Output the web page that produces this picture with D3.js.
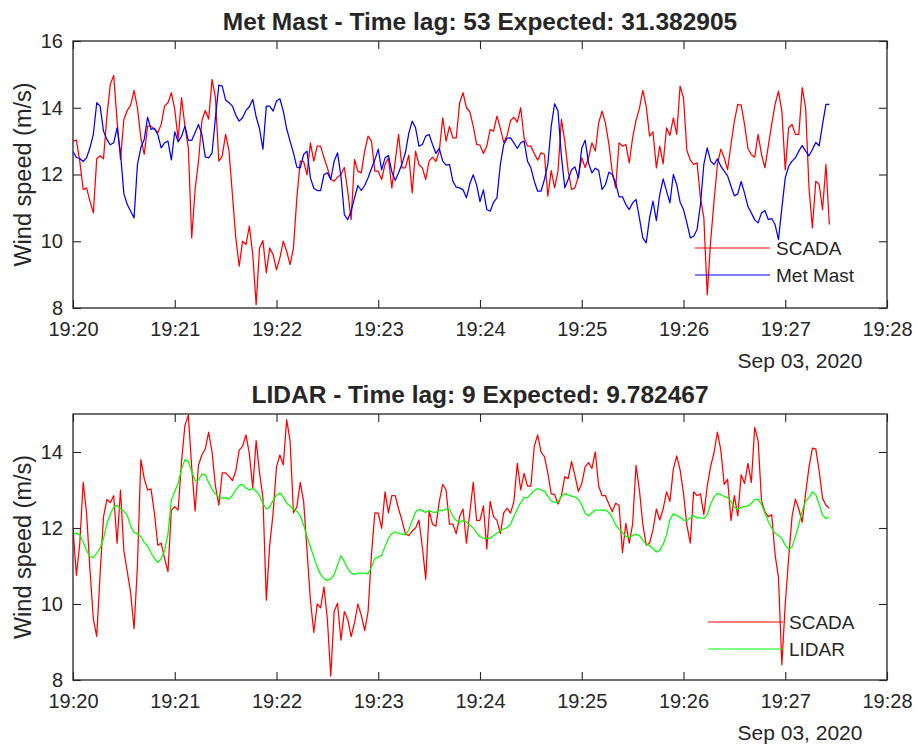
<!DOCTYPE html>
<html>
<head>
<meta charset="utf-8">
<script src="https://cdn.jsdelivr.net/npm/d3@7"></script>
<style>
  body { margin: 0; background: #fff; }
  svg { display: block; }
  text { font-family: "Liberation Sans", Arial, Helvetica, sans-serif; fill: #262626; }
</style>
</head>
<body>
<svg id="chart" width="918" height="749"></svg>
<script>
// ---- data (wind speed, m/s), one sample every 2 s ----

// SCADA record, clock starts 9 s after the reference window start
const scadaSpeed = [
  12.0, 10.75, 11.6, 13.2, 12.4, 10.9, 9.6, 9.15, 10.8, 12.3,
  12.75, 12.67, 12.85, 11.6, 13.0, 11.4, 10.85, 10.3, 9.35, 11.0,
  13.8, 13.3, 13.0, 13.03, 12.4, 11.55, 11.6, 11.2, 10.85, 12.47,
  12.56, 12.47, 13.75, 14.7, 14.97, 13.6, 12.45, 13.65, 13.92, 14.08,
  14.52, 14.0, 13.1, 12.6, 13.45, 13.45, 13.36, 13.25, 13.5, 14.05,
  14.15, 14.45, 13.95, 13.05, 14.3, 13.45, 12.8, 10.1, 11.55, 12.39,
  13.61, 13.92, 13.66, 14.85, 14.3, 12.4, 12.55, 13.2, 12.7, 11.4,
  10.1, 9.25, 10.0, 9.9, 10.45, 9.6, 8.1, 9.8, 10.02, 9.05,
  9.8, 9.6, 9.14, 9.5, 10.0, 9.7, 9.3, 9.8, 11.3, 12.4,
  12.39, 11.99, 12.95, 12.4, 12.85, 12.85, 12.5, 12.2, 11.85, 11.8,
  11.92, 12.0, 12.21, 11.5, 10.65, 12.45, 12.1, 12.05, 12.7, 13.15,
  13.0, 12.1, 12.1, 11.85, 12.3, 12.5, 11.6, 12.4, 13.2, 12.2,
  12.2, 12.58, 11.45, 12.7, 12.3, 12.2, 11.85, 12.4, 12.52, 12.39,
  12.7, 13.7, 13.0, 13.44, 13.1, 13.1, 14.15, 14.45, 14.0, 13.88,
  13.45, 12.9, 12.88, 12.63, 12.85, 13.35, 13.3, 13.75, 13.38, 12.96,
  13.17, 13.61, 13.72, 13.57, 14.0, 13.1, 12.85, 12.85, 12.63, 12.43,
  12.65, 12.6, 11.35, 12.12, 11.6, 12.1, 13.65, 13.0, 12.1, 11.55,
  11.6, 11.95, 12.5, 12.21, 12.5, 12.95, 12.7, 13.55, 13.9, 13.53,
  12.91, 12.07, 11.6, 12.95, 12.85, 12.9, 12.35, 13.1, 13.62, 13.98,
  14.52, 14.05, 13.15, 13.28, 12.2, 12.85, 12.32, 13.4, 13.17, 13.7,
  13.2, 14.65, 14.3, 12.72, 12.43, 12.3, 12.35, 11.3, 10.7, 8.4,
  10.0, 11.2, 12.3, 12.76, 12.5, 12.15, 12.9, 13.6, 14.1, 14.08,
  13.5, 12.78, 12.6, 12.52, 13.2, 12.6, 12.2, 12.85, 13.5, 14.1,
  14.5, 13.9, 12.14, 13.4, 13.5, 13.2, 13.2, 14.6, 14.0, 11.6,
  10.4, 11.8, 11.7, 10.95, 12.3, 10.5
];

// Met mast anemometer, from the reference window start
const metMastSpeed = [
  12.69, 12.51, 12.48, 12.39, 12.5, 12.8, 13.2, 14.15, 14.05, 13.3,
  13.05, 12.89, 12.95, 13.4, 12.65, 11.42, 11.1, 10.9, 10.7, 12.3,
  12.8, 13.05, 13.72, 13.35, 13.38, 13.2, 12.8, 12.95, 13.0, 12.44,
  13.28, 12.98, 13.14, 13.45, 13.02, 13.02, 13.26, 13.5, 13.2, 12.53,
  12.5, 12.65, 13.7, 14.68, 14.65, 14.23, 14.15, 14.05, 13.78, 13.6,
  13.7, 13.92, 14.03, 14.25, 13.73, 13.37, 12.76, 14.05, 14.05, 13.9,
  14.2, 14.27, 13.9, 13.37, 13.0, 12.65, 12.22, 12.2, 12.6, 12.7,
  11.9, 11.59, 11.52, 11.52, 12.0, 12.05, 11.85, 12.4, 12.65, 11.95,
  10.8, 10.65, 10.9, 11.3, 11.67, 11.52, 11.67, 11.9, 12.18, 12.44,
  12.76, 12.14, 12.5, 12.57, 12.08, 11.82, 12.05, 12.32, 12.65, 13.23,
  13.6, 13.4, 12.85, 12.9, 13.15, 13.2, 12.9, 12.63, 12.78, 12.4,
  12.28, 12.3, 11.8, 11.62, 11.6, 11.54, 11.3, 11.72, 11.99, 11.69,
  11.19, 11.54, 10.95, 10.9, 11.17, 11.3, 12.3, 12.9, 13.09, 13.1,
  12.95, 12.78, 12.95, 13.0, 12.4, 12.2, 11.8, 11.5, 11.5, 11.85,
  12.3, 13.45, 14.12, 13.9, 12.55, 11.6, 11.85, 12.14, 12.23, 11.89,
  12.79, 13.03, 12.34, 12.05, 12.19, 12.12, 11.55, 11.7, 12.07, 12.0,
  11.75, 11.33, 11.33, 11.1, 10.95, 11.15, 11.25, 10.7, 10.1, 9.95,
  10.7, 11.2, 10.62, 11.4, 11.87, 11.5, 11.15, 12.0, 11.7, 11.17,
  10.95, 10.55, 10.1, 10.15, 10.35, 11.1, 12.3, 12.8, 12.4, 12.3,
  12.47, 12.25, 12.1, 11.96, 11.65, 11.36, 11.42, 11.79, 11.44, 11.04,
  10.85, 10.64, 10.55, 10.85, 10.92, 10.65, 10.68, 10.5, 10.05, 11.0,
  11.9, 12.24, 12.4, 12.5, 12.7, 12.87, 12.7, 12.56, 12.75, 12.96,
  12.86, 13.5, 14.1, 14.1
];

// LIDAR, from the reference window start
const lidarSpeed = [
  11.86, 11.86, 11.82, 11.63, 11.41, 11.25, 11.22, 11.34, 11.47, 11.72,
  12.12, 12.37, 12.55, 12.6, 12.5, 12.44, 12.33, 12.05, 11.88, 11.85,
  11.77, 11.62, 11.52, 11.35, 11.2, 11.09, 11.19, 11.4, 11.84, 12.74,
  12.96, 13.18, 13.55, 13.8, 13.75, 13.48, 13.25, 13.26, 13.42, 13.4,
  13.19, 13.02, 12.9, 12.81, 12.78, 12.8, 12.76, 12.86, 13.0, 13.12,
  13.15, 13.05, 13.0, 13.04, 12.97, 12.85, 12.65, 12.5, 12.55, 12.73,
  12.87, 12.92, 12.82, 12.65, 12.58, 12.5, 12.44, 12.32, 12.08, 11.78,
  11.5, 11.24, 10.97, 10.78, 10.67, 10.62, 10.66, 10.77, 11.03, 11.27,
  11.12, 10.93, 10.82, 10.78, 10.81, 10.81, 10.81, 10.79, 10.97, 11.2,
  11.23, 11.29, 11.51, 11.73, 11.85, 11.9, 11.86, 11.84, 11.82, 11.95,
  12.2, 12.42, 12.49, 12.45, 12.41, 12.46, 12.42, 12.41, 12.47, 12.46,
  12.5, 12.5, 12.3, 12.2, 12.15, 12.2, 12.15, 12.08, 12.0, 11.88,
  11.77, 11.73, 11.73, 11.74, 11.8, 11.86, 11.93, 11.98, 12.01, 12.1,
  12.3, 12.5, 12.66, 12.8, 12.8, 12.89, 12.99, 13.04, 13.0, 12.97,
  12.84, 12.71, 12.67, 12.69, 12.83, 12.91, 12.87, 12.84, 12.82, 12.75,
  12.61, 12.39, 12.32, 12.4, 12.47, 12.47, 12.47, 12.47, 12.41, 12.28,
  12.08, 11.97, 11.88, 11.78, 11.75, 11.8, 11.84, 11.8, 11.68, 11.58,
  11.53, 11.46, 11.37, 11.41, 11.57, 11.82, 12.22, 12.37, 12.33, 12.28,
  12.21, 12.2, 12.27, 12.32, 12.26, 12.27, 12.25, 12.35, 12.63, 12.82,
  12.91, 12.88, 12.83, 12.8, 12.7, 12.54, 12.49, 12.54, 12.56, 12.58,
  12.65, 12.75, 12.76, 12.62, 12.4, 12.17, 12.0, 11.86, 11.8, 11.72,
  11.55, 11.44, 11.5, 11.78, 12.08, 12.45, 12.7, 12.8, 12.95, 12.88,
  12.62, 12.34, 12.25, 12.28
];

const sampleStep = 2;                 // seconds between samples
const scadaClockOffset = 9;           // s, SCADA clock vs reference clock
const metMastLag = 53;                // s
const lidarLag = 9;                   // s
const metMastExpected = "31.382905";
const lidarExpected = "9.782467";

const refStart = new Date(Date.UTC(2020, 8, 3, 19, 20, 0));
const axisStart = new Date(Date.UTC(2020, 8, 3, 19, 20, 0));
const axisEnd = new Date(Date.UTC(2020, 8, 3, 19, 28, 0));
const dateLabel = "Sep 03, 2020";
const yTicksTop = [8, 10, 12, 14, 16];
const yTicksBottom = [8, 10, 12, 14];

// ---- helpers ----
const sec = s => new Date(refStart.getTime() + s * 1000);
const refSeries = arr => arr.map((v, i) => ({ t: sec(i * sampleStep), v }));
const windowEnd = sec((metMastSpeed.length - 1) * sampleStep);
// SCADA shifted back by the lag, kept within the reference window
const scadaSeries = lag => scadaSpeed
  .map((v, i) => ({ t: sec(scadaClockOffset + i * sampleStep - lag), v }))
  .filter(d => d.t >= refStart && d.t <= windowEnd);

const panels = [
  {
    title: `Met Mast - Time lag: ${metMastLag} Expected: ${metMastExpected}`,
    top: 41, bottom: 308, yDomain: [8, 16], yTicks: yTicksTop,
    series: [
      { name: "SCADA", color: "#ff0000", data: scadaSeries(metMastLag) },
      { name: "Met Mast", color: "#0000ff", data: refSeries(metMastSpeed) }
    ],
    legend: { x1: 695, x2: 770, y: 248, gap: 27 }
  },
  {
    title: `LIDAR - Time lag: ${lidarLag} Expected: ${lidarExpected}`,
    top: 414, bottom: 680, yDomain: [8, 15], yTicks: yTicksBottom,
    series: [
      { name: "SCADA", color: "#ff0000", data: scadaSeries(lidarLag) },
      { name: "LIDAR", color: "#00ff00", data: refSeries(lidarSpeed) }
    ],
    legend: { x1: 708, x2: 783, y: 622, gap: 27 }
  }
];

const svg = d3.select("#chart");
const left = 73, right = 887;
const axisColor = "#262626";
const tickLen = 8;
const tickFont = "20px";

panels.forEach((p, k) => {
  const x = d3.scaleUtc().domain([axisStart, axisEnd]).range([left, right]);
  const y = d3.scaleLinear().domain(p.yDomain).range([p.bottom, p.top]);
  const g = svg.append("g");

  const clipId = "clip" + k;
  svg.append("clipPath").attr("id", clipId).append("rect")
    .attr("x", left).attr("y", p.top).attr("width", right - left).attr("height", p.bottom - p.top);

  const line = d3.line().x(d => x(d.t)).y(d => y(d.v));
  p.series.forEach(s => {
    g.append("path").datum(s.data)
      .attr("clip-path", `url(#${clipId})`)
      .attr("fill", "none").attr("stroke", s.color)
      .attr("stroke-width", 1.25).attr("stroke-linejoin", "round")
      .attr("d", line);
  });

  const xTicks = d3.utcMinute.every(1).range(axisStart, new Date(axisEnd.getTime() + 1));
  const fmt = d3.utcFormat("%H:%M");

  const styleAxis = sel => {
    sel.select(".domain").remove();
    sel.selectAll(".tick line").attr("stroke", axisColor).attr("stroke-width", 1.1);
    sel.selectAll(".tick text").style("font-size", tickFont).attr("fill", axisColor);
  };

  g.append("g").attr("transform", `translate(0,${p.bottom})`)
    .call(d3.axisBottom(x).tickValues(xTicks).tickFormat(fmt).tickSizeInner(-tickLen).tickSizeOuter(0).tickPadding(14))
    .call(styleAxis);
  g.append("g").attr("transform", `translate(0,${p.top})`)
    .call(d3.axisTop(x).tickValues(xTicks).tickFormat("").tickSizeInner(-tickLen).tickSizeOuter(0))
    .call(styleAxis);
  g.append("g").attr("transform", `translate(${left},0)`)
    .call(d3.axisLeft(y).tickValues(p.yTicks).tickFormat(d3.format("d")).tickSizeInner(-tickLen).tickSizeOuter(0).tickPadding(10))
    .call(styleAxis);
  g.append("g").attr("transform", `translate(${right},0)`)
    .call(d3.axisRight(y).tickValues(p.yTicks).tickFormat("").tickSizeInner(-tickLen).tickSizeOuter(0))
    .call(styleAxis);

  // axes box
  g.append("rect")
    .attr("x", left).attr("y", p.top).attr("width", right - left).attr("height", p.bottom - p.top)
    .attr("fill", "none").attr("stroke", axisColor).attr("stroke-width", 1.3);

  // date under the time axis
  g.append("text").attr("x", 800).attr("y", p.bottom + 60)
    .attr("text-anchor", "middle").style("font-size", "21px").text(dateLabel);

  // title
  g.append("text").attr("x", (left + right) / 2).attr("y", p.top - 11)
    .attr("text-anchor", "middle").style("font-size", "24.5px").style("font-weight", "bold")
    .attr("fill", "#000").text(p.title);

  // y label
  g.append("text")
    .attr("transform", `translate(31,${(p.top + p.bottom) / 2}) rotate(-90)`)
    .attr("text-anchor", "middle").style("font-size", "23.5px").text("Wind speed (m/s)");

  // legend (no box, no background)
  p.series.forEach((s, i) => {
    const ly = p.legend.y + i * p.legend.gap;
    g.append("line").attr("x1", p.legend.x1).attr("x2", p.legend.x2)
      .attr("y1", ly).attr("y2", ly).attr("stroke", s.color).attr("stroke-width", 1.2);
    g.append("text").attr("x", p.legend.x2 + 6).attr("y", ly).attr("dy", "0.35em")
      .style("font-size", "19px").attr("fill", "#000").text(s.name);
  });
});
</script>
</body>
</html>
